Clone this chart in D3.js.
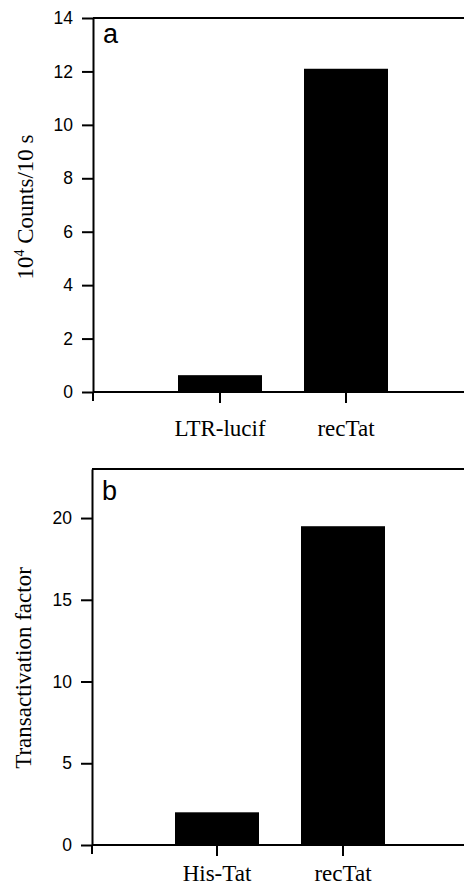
<!DOCTYPE html>
<html><head><meta charset="utf-8">
<script src="https://cdn.jsdelivr.net/npm/d3@7"></script>
<style>body{margin:0;background:#fff}svg{display:block}</style>
</head><body>
<svg id="c" width="465" height="887"></svg>
<script>
const catsA = ["LTR-lucif", "recTat"];
const valsA = [0.63, 12.1];
const ticksA = [0, 2, 4, 6, 8, 10, 12, 14];
const catsB = ["His-Tat", "recTat"];
const valsB = [2.0, 19.5];
const ticksB = [0, 5, 10, 15, 20];

const svg = d3.select("#c");
const sans = "'Liberation Sans', Arial, sans-serif";
const serif = "'Liberation Serif', 'Times New Roman', serif";

function panel(cfg) {
  const g = svg.append("g");
  const y = d3.scaleLinear().domain(cfg.domain).range([cfg.y0, cfg.y1]);
  const x = d3.scaleBand().domain(cfg.cats).range(cfg.barRange).paddingInner(1/3).paddingOuter(0);
  g.selectAll("rect").data(cfg.vals).join("rect")
    .attr("x", (d, i) => x(cfg.cats[i]))
    .attr("width", x.bandwidth())
    .attr("y", d => y(d))
    .attr("height", d => y(0) - y(d))
    .attr("fill", "#000");
  const ya = d3.axisLeft(y).tickValues(cfg.ticks).tickSize(11).tickPadding(9).tickSizeOuter(0);
  const yg = g.append("g").attr("transform", `translate(${cfg.xl},0)`).call(ya);
  yg.select(".domain").attr("stroke-width", 2);
  yg.selectAll(".tick line").attr("stroke-width", 2);
  yg.selectAll(".tick text").attr("font-family", sans).attr("font-size", 17.5).attr("fill", "#000");
  g.append("line").attr("x1", cfg.xl).attr("x2", 464).attr("y1", y(cfg.domain[1])).attr("y2", y(cfg.domain[1]))
    .attr("stroke", "#000").attr("stroke-width", 2);
  g.append("line").attr("x1", cfg.xl).attr("x2", 464).attr("y1", y(0)).attr("y2", y(0))
    .attr("stroke", "#000").attr("stroke-width", 2);
  const xa = d3.axisBottom(x).tickSize(11).tickSizeOuter(0).tickPadding(0);
  const xg = g.append("g").attr("transform", `translate(0,${y(0)})`).call(xa);
  xg.select(".domain").remove();
  xg.selectAll(".tick line").attr("stroke-width", 2);
  xg.selectAll(".tick text").attr("font-family", serif).attr("font-size", 23).attr("fill", "#000")
    .attr("dy", null).attr("y", cfg.labelY - y(0));
  g.append("line").attr("x1", cfg.xl).attr("x2", cfg.xl).attr("y1", y(0)).attr("y2", y(0) + 9)
    .attr("stroke", "#000").attr("stroke-width", 2);
  g.append("text").attr("x", cfg.xl + 10).attr("y", cfg.letterY).text(cfg.letter)
    .attr("font-family", sans).attr("font-size", 27).attr("fill", "#000");
  const t = g.append("text").attr("transform", `translate(${cfg.ylx},${cfg.yly}) rotate(-90)`)
    .attr("text-anchor", "middle").attr("font-family", serif).attr("font-size", 23).attr("fill", "#000");
  cfg.ylabel(t);
}

panel({
  cats: catsA, vals: valsA, ticks: ticksA, domain: [0, 14],
  y0: 392, y1: 18, xl: 93, barRange: [178, 388], labelY: 436,
  letter: "a", letterY: 43, ylx: 33, yly: 207,
  ylabel: t => {
    t.append("tspan").text("10");
    t.append("tspan").text("4").attr("font-size", 14).attr("dy", -9);
    t.append("tspan").text(" Counts/10 s").attr("dy", 9);
  }
});

panel({
  cats: catsB, vals: valsB, ticks: ticksB, domain: [0, 23],
  y0: 845, y1: 469, xl: 92, barRange: [175, 385], labelY: 881,
  letter: "b", letterY: 500, ylx: 31, yly: 668,
  ylabel: t => t.text("Transactivation factor")
});
</script>
</body></html>
